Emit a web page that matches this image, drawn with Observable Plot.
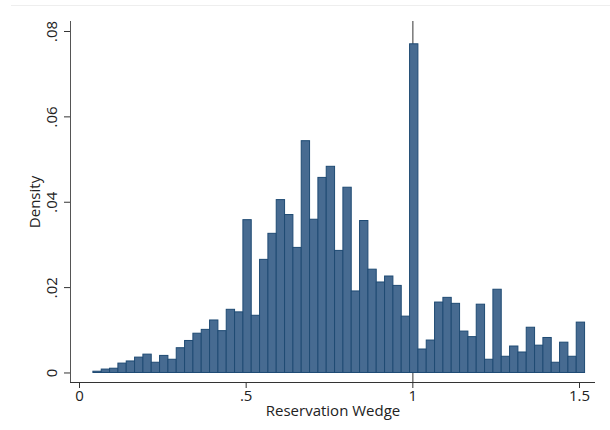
<!DOCTYPE html>
<html>
<head>
<meta charset="utf-8">
<script src="https://cdn.jsdelivr.net/npm/d3@7"></script>
<script src="https://cdn.jsdelivr.net/npm/@observablehq/plot@0.6"></script>
<style>
  html, body { margin: 0; padding: 0; background: #fff; }
  #wrap { position: relative; width: 610px; height: 430px; }
  #topline { position: absolute; left: 11px; right: 0; top: 5px; height: 0; border-top: 1px solid #eeeeee; }
</style>
</head>
<body>
<div id="wrap"><div id="topline"></div></div>
<script>
// Histogram bins: left edge of first bin and bin width
const binStart = 0.0417;
const binWidth = 0.025;
// Density of each bin
const density = [
  0.0003, 0.0008, 0.0010, 0.0022, 0.0027, 0.0036, 0.0043, 0.0024, 0.0040, 0.0031,
  0.0058, 0.0075, 0.0092, 0.0101, 0.0123, 0.0098, 0.0148, 0.0142, 0.0358, 0.0134,
  0.0265, 0.0326, 0.0405, 0.0370, 0.0293, 0.0543, 0.0359, 0.0457, 0.0483, 0.0286,
  0.0434, 0.0191, 0.0356, 0.0242, 0.0212, 0.0226, 0.0204, 0.0132, 0.0770, 0.0055,
  0.0076, 0.0165, 0.0176, 0.0162, 0.0097, 0.0084, 0.0160, 0.0031, 0.0195, 0.0038,
  0.0062, 0.0048, 0.0106, 0.0064, 0.0082, 0.0024, 0.0071, 0.0038, 0.0118
];
const xTicks = [0, 0.5, 1, 1.5];
const yTicks = [0, 0.02, 0.04, 0.06, 0.08];
const refLine = [1];
const xLabel = "Reservation Wedge";
const yLabel = "Density";

const bars = density.map((v, i) => ({
  x1: binStart + i * binWidth,
  x2: binStart + (i + 1) * binWidth,
  y: v
}));

const xDomain = [-0.027, 1.548];
const yDomain = [-0.00223, 0.08234];
const fmt = d => d === 0 ? "0" : String(d).replace(/^0\./, ".");
const fs = 15;

const chart = Plot.plot({
  width: 610,
  height: 430,
  marginLeft: 70,
  marginRight: 15,
  marginTop: 21,
  marginBottom: 48,
  style: { fontFamily: "'Open Sans', sans-serif", fontSize: fs + "px", color: "#222", background: "transparent" },
  x: { domain: xDomain },
  y: { domain: yDomain },
  marks: [
    Plot.ruleX(refLine, { stroke: "#6e6e6e", strokeWidth: 1.4 }),
    Plot.rectY(bars, { x1: "x1", x2: "x2", y: "y", fill: "#476b91", stroke: "#1e4a73", strokeWidth: 1, inset: 0 }),
    Plot.ruleY([yDomain[0]], { stroke: "#333", strokeWidth: 1 }),
    Plot.ruleX([xDomain[0]], { stroke: "#555", strokeWidth: 1 }),
    Plot.axisX({ ticks: xTicks, tickFormat: fmt, tickSize: 6, tickPadding: 2, fontSize: fs, label: null, stroke: "#333" }),
    Plot.axisY({ ticks: yTicks, tickFormat: () => "", tickSize: 6, label: null, stroke: "#333" }),
    Plot.text(yTicks, { y: d => d, text: fmt, frameAnchor: "left", rotate: -90, dx: -18, textAnchor: "middle", lineAnchor: "middle", fontSize: fs, fill: "#222" }),
    Plot.text([yLabel], { frameAnchor: "left", rotate: -90, dx: -35, textAnchor: "middle", lineAnchor: "middle", fontSize: fs, fill: "#222" }),
    Plot.text([xLabel], { frameAnchor: "bottom", dy: 29, textAnchor: "middle", lineAnchor: "middle", fontSize: fs, fill: "#222" })
  ]
});
document.getElementById("wrap").appendChild(chart);
</script>
</body>
</html>
